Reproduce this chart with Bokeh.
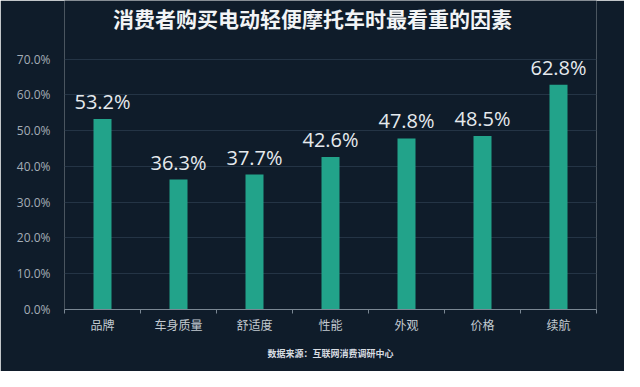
from bokeh.plotting import figure
from bokeh.models import FixedTicker, PrintfTickFormatter, Label, Title, ColumnDataSource, Range1d
from bokeh.core.properties import value
from bokeh.embed import file_html
from bokeh.resources import INLINE

categories = ["品牌", "车身质量", "舒适度", "性能", "外观", "价格", "续航"]
shares = [53.2, 36.3, 37.7, 42.6, 47.8, 48.5, 62.8]
y_ticks = [0, 10, 20, 30, 40, 50, 60, 70]
title_text = "消费者购买电动轻便摩托车时最看重的因素"
source_text = "数据来源：互联网消费调研中心"

BG = "#0f1c2a"
BAR = "#22a38a"
CJK = "Noto Sans CJK SC"

# layout (pixels)
W, H = 624, 371
ML, MR, MB = 64, 28, 62
TOP70 = 58.5            # pixel row of the 70 % gridline
TITLE_Y = 17            # pixel row of the title centre
FH = H - MB             # frame spans whole height above the x axis
ppu = (FH - TOP70) / 70.0
y_top = FH / ppu
title_y = (FH - TITLE_Y) / ppu

xs = [i + 0.5 for i in range(len(categories))]
src = ColumnDataSource(dict(x=xs, y=shares, lab=["%.1f%%" % v for v in shares]))

p = figure(width=W, height=H, output_backend="svg", toolbar_location=None,
           x_range=Range1d(0, len(categories)), y_range=Range1d(0, y_top),
           min_border_left=ML, min_border_right=MR, min_border_top=0, min_border_bottom=MB)
p.background_fill_color = BG
p.border_fill_color = BG
p.outline_line_color = None

p.vbar(x="x", top="y", width=0.237, source=src, fill_color=BAR, line_color=None)
p.text(x="x", y="y", text="lab", source=src, text_align="center", text_baseline="bottom",
       y_offset=-4, text_font=value("Open Sans"), text_font_size="20px", text_color="#e6eaee")

# x axis: labels at centres, tick marks at category boundaries
xa = p.xaxis[0]
xa.ticker = FixedTicker(ticks=xs, minor_ticks=list(range(len(categories) + 1)))
xa.major_label_overrides = {x: c for x, c in zip(xs, categories)}
xa.major_tick_line_color = None
xa.minor_tick_line_color = "#7a8793"
xa.minor_tick_out = 4
xa.minor_tick_in = 0
xa.axis_line_color = "#7a8793"
xa.major_label_text_font = CJK
xa.major_label_text_font_size = "12px"
xa.major_label_text_color = "#c3cad1"
xa.major_label_standoff = 0

ya = p.yaxis[0]
ya.ticker = FixedTicker(ticks=y_ticks)
ya.formatter = PrintfTickFormatter(format="%.1f%%")
ya.axis_line_color = None
ya.major_tick_line_color = None
ya.minor_tick_line_color = None
ya.major_label_text_font = "Open Sans"
ya.major_label_text_font_size = "12px"
ya.major_label_text_color = "#a4adb6"
ya.major_label_standoff = 8

p.xgrid.grid_line_color = None
p.ygrid.grid_line_color = "#243445"
p.ygrid.ticker = FixedTicker(ticks=y_ticks[1:])

title_lbl = Label(x=len(categories) * (W / 2 - ML) / (W - ML - MR), y=title_y, text=title_text,
                  text_align="center", text_baseline="middle", text_font=CJK,
                  text_font_size="21px", text_font_style="bold", text_color="#f2f4f6")
p.add_layout(title_lbl)

src_title = Title(text=source_text, align="center", text_font=CJK, offset=5,
                  text_font_size="9px", text_font_style="bold", text_color="#d8dde2",
                  standoff=19)
p.add_layout(src_title, "below")

open("out.html", "w").write(file_html(p, INLINE))
